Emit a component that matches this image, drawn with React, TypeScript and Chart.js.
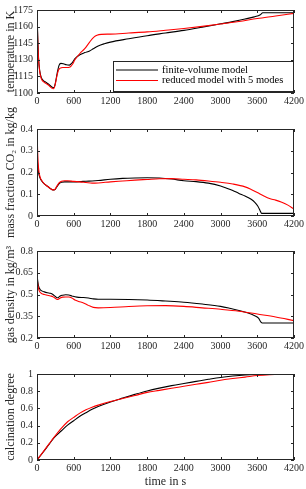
import React, { useEffect, useRef } from "react";
import { Chart, registerables } from "chart.js";

Chart.register(...registerables);

// ---------- data ----------
const timeTicks = [0, 600, 1200, 1800, 2400, 3000, 3600, 4200];
const tempTicks = [1100, 1115, 1130, 1145, 1160, 1175];
const co2Ticks = [0, 0.1, 0.2, 0.3, 0.4];
const densTicks = [0.2, 0.35, 0.5, 0.65, 0.8];
const calcTicks = [0, 0.2, 0.4, 0.6, 0.8, 1];

const seriesNames = ["finite-volume model", "reduced model with 5 modes"];

// temperature
const tTempFV = [0, 10, 25, 45, 70, 100, 150, 200, 250, 275, 300, 330, 360, 390, 430, 480, 530, 570, 620, 700, 780, 860, 920, 1000, 1100, 1200, 1500, 1800, 2100, 2400, 2700, 3000, 3200, 3400, 3550, 3650, 3690, 3800, 4200];
const tempFV = [1175, 1155, 1132, 1120, 1114, 1111.5, 1109.5, 1107.5, 1105.2, 1105, 1109, 1118, 1125, 1126.8, 1126.5, 1125.5, 1125.2, 1127, 1131, 1134.5, 1136.5, 1138, 1140, 1142.5, 1144.5, 1146, 1149, 1151.8, 1154.2, 1156.6, 1159.5, 1162.5, 1164.5, 1166.8, 1168.8, 1170.8, 1172.5, 1172.5, 1172.5];
const tTempRM = [0, 10, 25, 45, 70, 100, 150, 200, 240, 265, 290, 320, 350, 380, 420, 480, 540, 580, 620, 700, 780, 860, 930, 980, 1050, 1200, 1500, 1800, 2100, 2400, 2700, 3000, 3300, 3600, 3900, 4200];
const tempRM = [1174, 1152, 1131, 1119, 1113, 1110.5, 1108.5, 1106.5, 1104.5, 1103.8, 1106, 1114, 1120.5, 1122.5, 1123, 1123, 1123.5, 1126, 1130, 1135.7, 1140, 1146, 1150.5, 1152.2, 1153, 1153.2, 1154.2, 1155.2, 1156.7, 1158.3, 1160.2, 1162.3, 1164.6, 1167.3, 1169.6, 1172];

// mass fraction CO2
const tCo2FV = [0, 10, 25, 50, 80, 120, 170, 220, 260, 290, 320, 360, 400, 450, 500, 600, 700, 800, 900, 1000, 1200, 1400, 1600, 1800, 2000, 2200, 2400, 2600, 2800, 3000, 3100, 3200, 3300, 3400, 3500, 3560, 3610, 3650, 3670, 4200];
const co2FV = [0.285, 0.24, 0.2, 0.175, 0.16, 0.148, 0.137, 0.126, 0.12, 0.121, 0.132, 0.148, 0.155, 0.157, 0.157, 0.157, 0.158, 0.16, 0.161, 0.163, 0.169, 0.173, 0.175, 0.176, 0.175, 0.17, 0.162, 0.158, 0.151, 0.138, 0.128, 0.117, 0.104, 0.092, 0.077, 0.063, 0.045, 0.022, 0.012, 0.012];
const tCo2RM = [0, 10, 25, 50, 80, 120, 170, 220, 260, 290, 320, 360, 400, 450, 500, 600, 700, 800, 900, 1000, 1200, 1400, 1600, 1800, 2000, 2200, 2400, 2600, 2800, 3000, 3200, 3400, 3500, 3600, 3700, 3800, 3900, 4000, 4100, 4200];
const co2RM = [0.4, 0.3, 0.22, 0.18, 0.162, 0.148, 0.137, 0.126, 0.12, 0.122, 0.135, 0.152, 0.16, 0.162, 0.162, 0.159, 0.157, 0.154, 0.151, 0.152, 0.157, 0.161, 0.165, 0.168, 0.171, 0.172, 0.169, 0.166, 0.161, 0.155, 0.147, 0.134, 0.122, 0.108, 0.093, 0.08, 0.073, 0.063, 0.05, 0.032];

// gas density
const tDensFV = [0, 10, 25, 50, 80, 120, 170, 220, 260, 300, 330, 350, 380, 420, 470, 520, 570, 620, 680, 760, 840, 920, 1000, 1200, 1500, 1800, 2100, 2400, 2700, 3000, 3150, 3300, 3450, 3550, 3620, 3660, 3680, 4200];
const densFV = [0.635, 0.6, 0.56, 0.535, 0.525, 0.518, 0.512, 0.508, 0.5, 0.486, 0.478, 0.48, 0.49, 0.495, 0.498, 0.496, 0.49, 0.484, 0.48, 0.479, 0.476, 0.47, 0.467, 0.467, 0.466, 0.462, 0.455, 0.447, 0.434, 0.418, 0.405, 0.39, 0.372, 0.355, 0.337, 0.31, 0.303, 0.303];
const tDensRM = [0, 10, 25, 50, 80, 120, 170, 220, 260, 300, 330, 350, 380, 420, 470, 520, 570, 620, 680, 760, 840, 920, 1000, 1200, 1500, 1800, 2100, 2400, 2700, 3000, 3300, 3600, 3900, 4200];
const densRM = [0.622, 0.58, 0.54, 0.515, 0.505, 0.5, 0.495, 0.49, 0.485, 0.474, 0.466, 0.468, 0.476, 0.482, 0.483, 0.483, 0.476, 0.462, 0.452, 0.442, 0.425, 0.411, 0.408, 0.41, 0.417, 0.422, 0.423, 0.418, 0.408, 0.398, 0.385, 0.365, 0.345, 0.32];

// calcination degree
const tCalc = [0, 100, 200, 280, 400, 500, 600, 700, 800, 900, 1000, 1200, 1400, 1600, 1800, 2000, 2200, 2400, 2600, 2800, 3000, 3200, 3400, 3600, 3800, 4000, 4200];
const calcFV = [0, 0.09, 0.185, 0.26, 0.34, 0.405, 0.457, 0.508, 0.55, 0.59, 0.622, 0.675, 0.72, 0.763, 0.803, 0.836, 0.865, 0.89, 0.914, 0.938, 0.96, 0.976, 0.988, 0.995, 0.999, 1, 1];
const calcRM = [0, 0.095, 0.19, 0.265, 0.37, 0.445, 0.496, 0.545, 0.583, 0.613, 0.638, 0.68, 0.715, 0.75, 0.786, 0.81, 0.834, 0.857, 0.88, 0.903, 0.928, 0.947, 0.964, 0.982, 0.993, 0.998, 1];

// ---------- styling ----------
const FONT = "'Liberation Serif', 'Times New Roman', serif";
const AXIS_COLOR = "#262626";
const FV_COLOR = "#000000";
const RM_COLOR = "#ff0000";

const boxPlugin = {
  id: "matlabBox",
  afterDatasetsDraw(chart: any, _args: any, opts: any) {
    const { ctx, chartArea: a, scales } = chart;
    ctx.save();
    ctx.strokeStyle = AXIS_COLOR;
    ctx.lineWidth = 1;
    ctx.strokeRect(a.left + 0.5, a.top + 0.5, a.right - a.left - 1, a.bottom - a.top - 1);
    const tl = 3;
    ctx.beginPath();
    scales.x.ticks.forEach((t: any) => {
      const x = Math.round(scales.x.getPixelForValue(t.value)) + 0.5;
      ctx.moveTo(x, a.bottom);
      ctx.lineTo(x, a.bottom - tl);
      ctx.moveTo(x, a.top);
      ctx.lineTo(x, a.top + tl);
    });
    scales.y.ticks.forEach((t: any) => {
      const y = Math.round(scales.y.getPixelForValue(t.value)) + 0.5;
      ctx.moveTo(a.left, y);
      ctx.lineTo(a.left + tl, y);
      ctx.moveTo(a.right, y);
      ctx.lineTo(a.right - tl, y);
    });
    ctx.stroke();

    if (opts && opts.legend) {
      const w = 180;
      const h = 30;
      const lx = a.right - 1 - w;
      const ly = a.bottom - 2 - h;
      ctx.fillStyle = "#ffffff";
      ctx.fillRect(lx, ly, w, h);
      ctx.strokeStyle = AXIS_COLOR;
      ctx.strokeRect(lx + 0.5, ly + 0.5, w, h);
      const colors = [FV_COLOR, RM_COLOR];
      ctx.font = `10.5px ${FONT}`;
      ctx.textBaseline = "middle";
      ctx.textAlign = "left";
      seriesNames.forEach((name, i) => {
        const yy = ly + 9 + i * 10.5;
        ctx.strokeStyle = colors[i];
        ctx.lineWidth = 1;
        ctx.beginPath();
        ctx.moveTo(lx + 3, yy);
        ctx.lineTo(lx + 45, yy);
        ctx.stroke();
        ctx.fillStyle = "#000000";
        ctx.fillText(name, lx + 49, yy);
      });
    }
    ctx.restore();
  },
};

type PanelCfg = {
  top: number;
  bottom: number;
  yMin: number;
  yMax: number;
  yTicks: number[];
  yTitle: string;
  fv: [number[], number[]];
  rm: [number[], number[]];
  xTitle?: string;
  legend?: boolean;
};

const CANVAS_W = 306;
const CANVAS_H = 489;

function toXY(ts: number[], vs: number[]) {
  return ts.map((t, i) => ({ x: t, y: vs[i] }));
}

function makeConfig(c: PanelCfg): any {
  const xH = c.xTitle ? 29 : 14;
  return {
    type: "line",
    data: {
      datasets: [
        {
          label: seriesNames[1],
          data: toXY(c.rm[0], c.rm[1]),
          borderColor: RM_COLOR,
          borderWidth: 1.1,
          pointRadius: 0,
          cubicInterpolationMode: "monotone",
          fill: false,
        },
        {
          label: seriesNames[0],
          data: toXY(c.fv[0], c.fv[1]),
          borderColor: FV_COLOR,
          borderWidth: 1.1,
          pointRadius: 0,
          cubicInterpolationMode: "monotone",
          fill: false,
        },
      ],
    },
    options: {
      responsive: false,
      animation: false,
      events: [],
      layout: {
        padding: { left: 0, right: 10, top: c.top, bottom: CANVAS_H - c.bottom - xH },
      },
      plugins: {
        legend: { display: false },
        tooltip: { enabled: false },
        matlabBox: { legend: !!c.legend },
      },
      scales: {
        x: {
          type: "linear",
          min: 0,
          max: 4200,
          afterBuildTicks: (s: any) => {
            s.ticks = timeTicks.map((v) => ({ value: v }));
          },
          afterFit: (s: any) => {
            s.height = xH;
          },
          ticks: {
            font: { family: FONT, size: 10 },
            color: AXIS_COLOR,
            padding: 2,
            maxRotation: 0,
            autoSkip: false,
            callback: (v: any) => String(v),
          },
          grid: { display: false, drawTicks: false },
          border: { display: false },
          title: c.xTitle
            ? {
                display: true,
                text: c.xTitle,
                font: { family: FONT, size: 12 },
                color: AXIS_COLOR,
                padding: { top: 0, bottom: 0 },
              }
            : { display: false },
        },
        y: {
          type: "linear",
          min: c.yMin,
          max: c.yMax,
          afterBuildTicks: (s: any) => {
            s.ticks = c.yTicks.map((v) => ({ value: v }));
          },
          afterFit: (s: any) => {
            s.width = 37;
          },
          ticks: {
            font: { family: FONT, size: 10 },
            color: AXIS_COLOR,
            padding: 4,
            autoSkip: false,
            callback: (v: any) => String(v),
          },
          grid: { display: false, drawTicks: false },
          border: { display: false },
          title: {
            display: true,
            text: c.yTitle,
            font: { family: FONT, size: 12 },
            color: AXIS_COLOR,
            padding: { top: 4, bottom: 0 },
          },
        },
      },
    },
    plugins: [boxPlugin],
  };
}

const panels: PanelCfg[] = [
  { top: 6, bottom: 93, yMin: 1100, yMax: 1175, yTicks: tempTicks, yTitle: "temperature in K", fv: [tTempFV, tempFV], rm: [tTempRM, tempRM], legend: true },
  { top: 129, bottom: 216, yMin: 0, yMax: 0.4, yTicks: co2Ticks, yTitle: "mass fraction CO₂ in kg/kg", fv: [tCo2FV, co2FV], rm: [tCo2RM, co2RM] },
  { top: 251, bottom: 338, yMin: 0.2, yMax: 0.8, yTicks: densTicks, yTitle: "gas density in kg/m³", fv: [tDensFV, densFV], rm: [tDensRM, densRM] },
  { top: 374, bottom: 460, yMin: 0, yMax: 1, yTicks: calcTicks, yTitle: "calcination degree", fv: [tCalc, calcFV], rm: [tCalc, calcRM], xTitle: "time in s" },
];

function Panel({ cfg }: { cfg: PanelCfg }) {
  const ref = useRef<HTMLCanvasElement>(null);
  useEffect(() => {
    const chart = new Chart(ref.current as HTMLCanvasElement, makeConfig(cfg));
    return () => chart.destroy();
  }, [cfg]);
  return (
    <canvas
      ref={ref}
      width={CANVAS_W}
      height={CANVAS_H}
      style={{ position: "absolute", left: 0, top: 0, width: CANVAS_W, height: CANVAS_H }}
    />
  );
}

export default function App() {
  return (
    <div style={{ position: "absolute", left: 0, top: 0, width: CANVAS_W, height: CANVAS_H, background: "#ffffff" }}>
      {panels.map((p, i) => (
        <Panel key={i} cfg={p} />
      ))}
    </div>
  );
}
